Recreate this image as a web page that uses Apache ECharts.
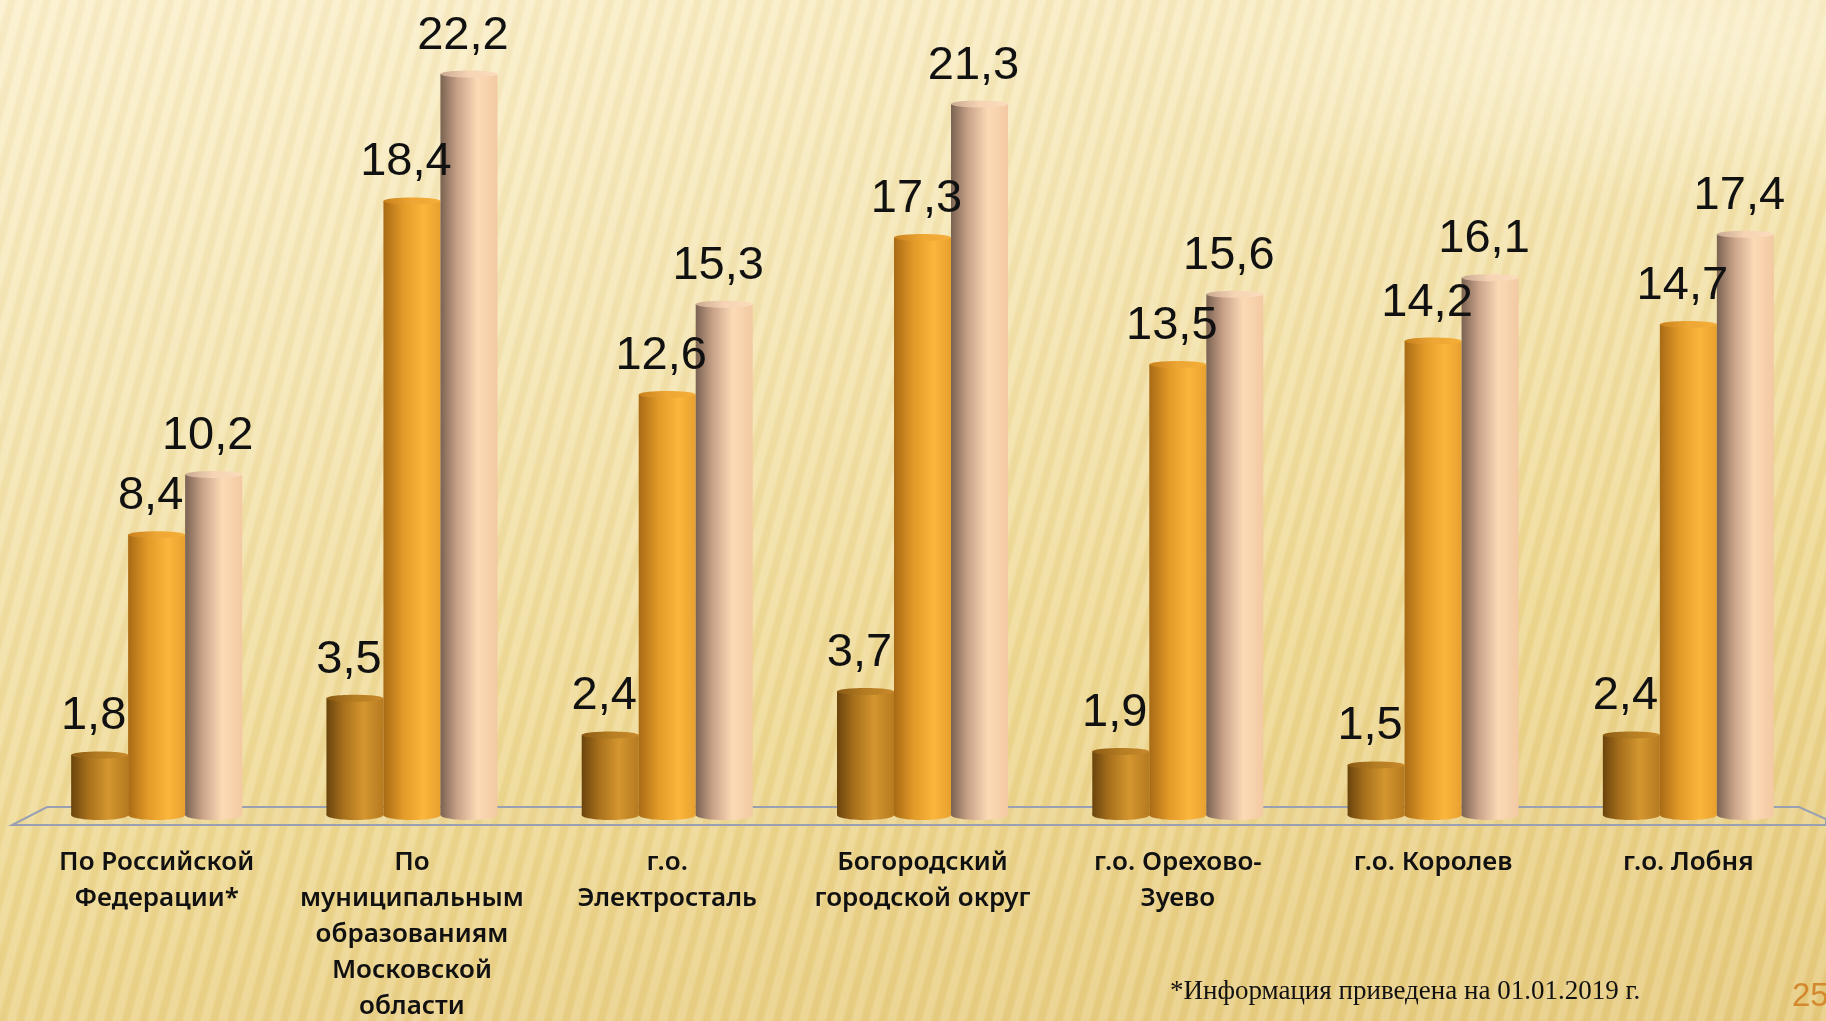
<!DOCTYPE html>
<html><head><meta charset="utf-8">
<script src="https://cdn.jsdelivr.net/npm/echarts@6/dist/echarts.min.js"></script>
<style>
html,body{margin:0;padding:0;width:1826px;height:1021px;overflow:hidden;}
#bg{position:absolute;left:0;top:0;width:1826px;height:1021px;
background:
 radial-gradient(ellipse 520px 170px at 1650px 40px, rgba(255,250,232,0.5), rgba(255,250,232,0) 100%),
 repeating-linear-gradient(105deg, rgba(255,255,255,0.14) 0px, rgba(255,255,255,0.14) 6px, rgba(170,130,40,0.05) 9px, rgba(170,130,40,0.05) 14px, rgba(255,255,255,0.14) 17px),
 linear-gradient(170deg, #fbf0cc 0%, #f5e6b4 30%, #eed891 65%, #e6ca7d 100%);}
#chart{position:absolute;left:0;top:0;width:1826px;height:1021px;}
</style></head>
<body><div id="bg"></div><div id="chart"></div>
<script>
const categories = ['По Российской\nФедерации*', 'По\nмуниципальным\nобразованиям\nМосковской\nобласти', 'г.о.\nЭлектросталь', 'Богородский\nгородской округ', 'г.о. Орехово-\nЗуево', 'г.о. Королев', 'г.о. Лобня'];
const series1 = [1.8, 3.5, 2.4, 3.7, 1.9, 1.5, 2.4];
const series2 = [8.4, 18.4, 12.6, 17.3, 13.5, 14.2, 14.7];
const series3 = [10.2, 22.2, 15.3, 21.3, 15.6, 16.1, 17.4];
const footnote = '*Информация приведена на 01.01.2019 г.';
const pageNumber = '25';

const BW = 57;
function hgrad(stops){return {type:'linear',x:0,y:0,x2:1,y2:0,colorStops:stops.map(s=>({offset:s[0],color:s[1]}))};}
const bodyColors = [
  hgrad([[0,'#6a440c'],[0.3,'#a8701c'],[0.65,'#d4962f'],[1,'#b67a20']]),
  hgrad([[0,'#a86a14'],[0.35,'#e39a28'],[0.7,'#fbb63c'],[1,'#e8a02e']]),
  hgrad([[0,'#7a6252'],[0.3,'#c9a288'],[0.65,'#fcdab6'],[1,'#f2c9a2']])
];
const capColors = [
  hgrad([[0,'#8a5a14'],[0.5,'#b57d22'],[1,'#c8892a']]),
  hgrad([[0,'#c8801c'],[0.5,'#eea634'],[1,'#f4ae38']]),
  hgrad([[0,'#c8a890'],[0.5,'#f6d4b4'],[1,'#fadcbc']])
];
const datas = [series1, series2, series3];

const labelFmt = p => p.value.toFixed(1).replace('.', ',');
const series = [];
datas.forEach((d,i)=>{
  series.push({type:'bar', data:d, barWidth:BW, barGap:'0%', z:2,
    itemStyle:{color:bodyColors[i]},
    label:{show:true, position:'top', distance:15, offset:[-6,0], formatter:labelFmt,
      fontFamily:'Liberation Sans', fontSize:47, color:'#111'}});
});
datas.forEach((d,i)=>{
  series.push({type:'custom', z:3, silent:true, data:d.map((v,k)=>[k,v]),
    renderItem:function(params, api){
      const top = api.coord([api.value(0), api.value(1)]);
      const base = api.coord([api.value(0), 0]);
      const cx = top[0] + (i-1)*BW;
      const rx = BW/2;
      return {type:'group', children:[
        {type:'ellipse', z2:1, shape:{cx:cx, cy:base[1], rx:rx, ry:5}, style:{fill:bodyColors[i]}},
        {type:'ellipse', z2:2, shape:{cx:cx, cy:top[1], rx:rx, ry:3.5}, style:{fill:capColors[i]}}
      ]};
    }});
});

const chart = echarts.init(document.getElementById('chart'));
chart.setOption({
  animation:false,
  backgroundColor:'transparent',
  grid:{left:29, right:10, top:14, bottom:206, containLabel:false, outerBoundsMode:'none'},
  xAxis:{type:'category', data:categories, axisLine:{show:false}, axisTick:{show:false},
    axisLabel:{interval:0, margin:30, fontFamily:'Noto Sans', fontWeight:600, fontSize:26, lineHeight:36, color:'#111'}},
  yAxis:{type:'value', min:0, max:24, show:false, splitLine:{show:false}},
  graphic:[
    {type:'polygon', z:0, shape:{points:[[47,807],[1799,807],[1826,819],[1826,825],[12,825]]},
      style:{fill:'rgba(235,215,160,0.25)', stroke:'#98a0b2', lineWidth:2}},
    {type:'text', left:1170, top:978, style:{text:footnote, fontFamily:'Liberation Serif', fontSize:27, fill:'#111'}},
    {type:'text', left:1792, top:980, style:{text:pageNumber, fontFamily:'Liberation Sans', fontSize:33, fill:'#d4892e'}}
  ],
  series:series
});
</script></body></html>
